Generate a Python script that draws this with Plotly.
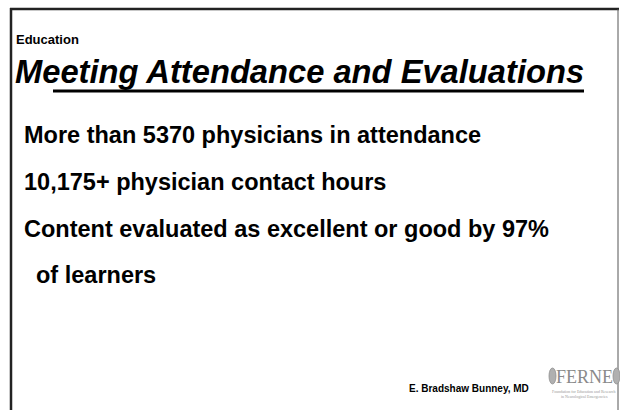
import plotly.graph_objects as go

W, H = 620, 410

section_label = "Education"
title_text = "Meeting Attendance and Evaluations"
bullet_lines = [
    "More than 5370 physicians in attendance",
    "10,175+ physician contact hours",
    "Content evaluated as excellent or good by 97%",
    "of learners",
]
bullet_x = [22, 22, 22, 34]
bullet_y = [135, 182, 229, 275]
author = "E. Bradshaw Bunney, MD"
logo_text = "FERNE"
logo_sub = ["Foundation for Education and Research", "in Neurological Emergencies"]


def px(x):
    return x / W


def py(y):
    return 1 - y / H


fig = go.Figure()

FONT = "Liberation Sans, Arial, sans-serif"
SERIF = "Liberation Serif, Times New Roman, serif"
ann = []
ann.append(dict(x=px(14), y=py(40), text=f"<b>{section_label}</b>", xanchor="left", yanchor="middle",
                font=dict(family=FONT, size=13, color="black")))
ann.append(dict(x=px(13), y=py(72), text=f"<b><i>{title_text}</i></b>", xanchor="left", yanchor="middle",
                font=dict(family=FONT, size=32.7, color="black")))
for t, x, y in zip(bullet_lines, bullet_x, bullet_y):
    ann.append(dict(x=px(x), y=py(y), text=f"<b>{t}</b>", xanchor="left", yanchor="middle",
                    font=dict(family=FONT, size=23.5, color="black")))
ann.append(dict(x=px(531), y=py(388), text=f"<b>{author}</b>", xanchor="right", yanchor="middle",
                font=dict(family=FONT, size=10, color="black")))
ann.append(dict(x=px(584), y=py(377), text=logo_text, xanchor="center", yanchor="middle",
                font=dict(family=SERIF, size=18, color="#8a8a8a")))
ann.append(dict(x=px(584), y=py(391), text=logo_sub[0], xanchor="center", yanchor="middle",
                font=dict(family=SERIF, size=4, color="#999999")))
ann.append(dict(x=px(584), y=py(396), text=logo_sub[1], xanchor="center", yanchor="middle",
                font=dict(family=SERIF, size=4, color="#999999")))
for a in ann:
    a.update(xref="paper", yref="paper", showarrow=False)

shapes = [
    dict(type="line", x0=px(10), x1=px(619), y0=py(9), y1=py(9), line=dict(color="#222222", width=2.5)),
    dict(type="line", x0=px(11), x1=px(11), y0=py(8), y1=py(410), line=dict(color="#222222", width=2.5)),
    dict(type="line", x0=px(618), x1=px(618), y0=py(9), y1=py(410), line=dict(color="#555555", width=1)),
    dict(type="line", x0=px(53), x1=px(584), y0=py(91), y1=py(91), line=dict(color="black", width=3)),
    # leaf ornaments of the logo
    dict(type="circle", x0=px(549), x1=px(556), y0=py(368), y1=py(384),
         fillcolor="#b0b0b0", line=dict(color="#909090", width=0.8)),
    dict(type="circle", x0=px(613), x1=px(620), y0=py(368), y1=py(384),
         fillcolor="#b0b0b0", line=dict(color="#909090", width=0.8)),
]
for s in shapes:
    s.update(xref="paper", yref="paper")

fig.update_layout(
    width=W, height=H, margin=dict(l=0, r=0, t=0, b=0),
    paper_bgcolor="white", plot_bgcolor="white",
    xaxis=dict(visible=False, range=[0, 1]), yaxis=dict(visible=False, range=[0, 1]),
    annotations=ann, shapes=shapes, showlegend=False,
)
fig.write_html(
    "out.html",
    config={"displayModeBar": False},
    post_script="document.body.style.margin='0';document.body.style.overflow='hidden';",
)
